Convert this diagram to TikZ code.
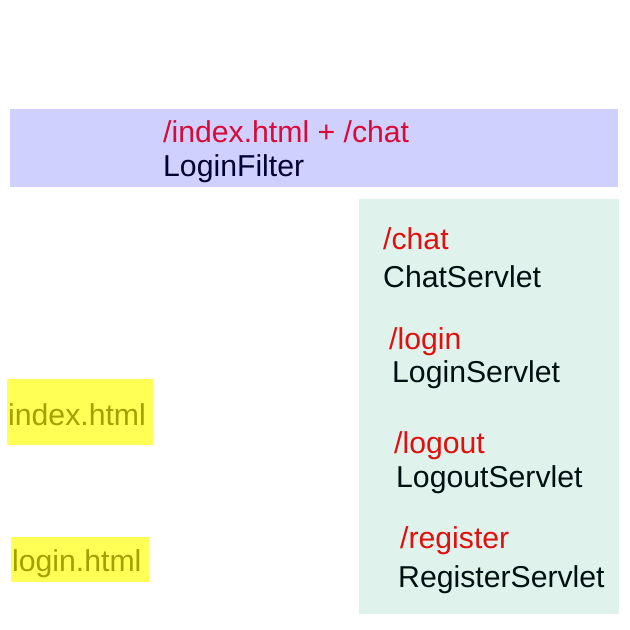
\documentclass[tikz,border=0pt]{standalone}
\usepackage{fontspec}
\setmainfont{Liberation Sans}
\definecolor{bandblue}{HTML}{D0D0FF}
\definecolor{panelgreen}{HTML}{E0F2EC}
\definecolor{hlyellow}{HTML}{FFFF55}
\definecolor{olivetxt}{HTML}{A0A000}
\definecolor{crimson}{HTML}{D80A38}
\definecolor{urlred}{HTML}{E01010}
\definecolor{navy}{HTML}{000033}
\definecolor{darktxt}{HTML}{001010}
\begin{document}
\begin{tikzpicture}[x=1pt,y=-1pt,
  lbl/.style={anchor=base west,inner sep=0pt,font=\fontsize{30.2}{34}\selectfont},
  url/.style={lbl,text=urlred},
  cls/.style={lbl,text=darktxt},
  panel/.style={anchor=north west,inner sep=0pt,draw=none}]
\useasboundingbox (0,0) rectangle (630,630);
\fill[white] (0,0) rectangle (630,630);
% boxes
\node[panel,fill=bandblue,minimum width=608pt,minimum height=78pt] (filterbox) at (10,109) {};
\node[panel,fill=panelgreen,minimum width=260pt,minimum height=415pt] (servletbox) at (359,199) {};
\node[panel,fill=hlyellow,minimum width=146pt,minimum height=66pt] (indexbox) at (7,379) {};
\node[panel,fill=hlyellow,minimum width=138pt,minimum height=45pt] (loginbox) at (11,537) {};
% filter texts
\node[lbl,text=crimson] (filterurl) at (163,142) {/index.html + /chat};
\node[lbl,text=navy] (filtername) at (163,176) {LoginFilter};
% servlets
\node[url] (chaturl) at (383,249) {/chat};
\node[cls] (chatname) at (383,287) {ChatServlet};
\node[url] (loginurl) at (389,349) {/login};
\node[cls] (loginname) at (392,382) {LoginServlet};
\node[url] (logouturl) at (394,453) {/logout};
\node[cls] (logoutname) at (396,487) {LogoutServlet};
\node[url] (registerurl) at (400,548) {/register};
\node[cls] (registername) at (398,587) {RegisterServlet};
% pages
\node[lbl,text=olivetxt] (indexpage) at (8,425) {index.html};
\node[lbl,text=olivetxt] (loginpage) at (12,571) {login.html};
\end{tikzpicture}
\end{document}
